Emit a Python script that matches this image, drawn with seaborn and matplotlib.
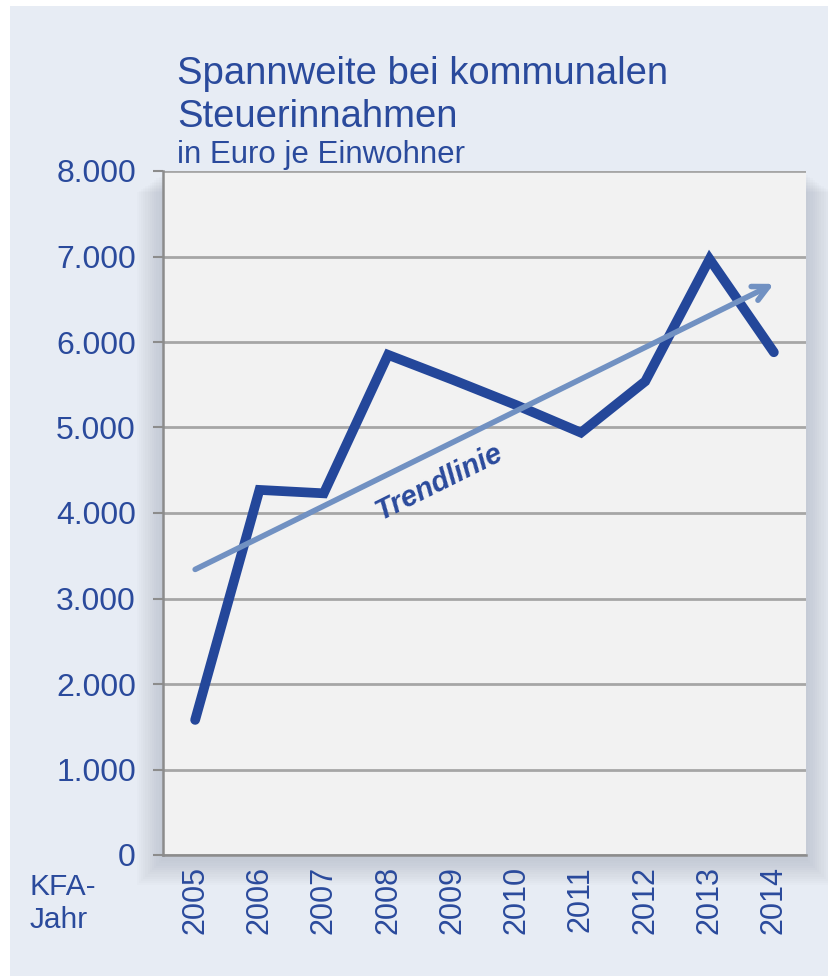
import matplotlib
matplotlib.use("Agg")
import matplotlib.pyplot as plt
import matplotlib.patches as mpatches
import seaborn as sns
import pandas as pd

# Werte
jahre = [2005, 2006, 2007, 2008, 2009, 2010, 2011, 2012, 2013, 2014]
spannweite = [1580, 4270, 4230, 5850, 5560, 5260, 4940, 5540, 6970, 5880]
trend_start = 3340
trend_ende = 6680
y_ticks = [0, 1000, 2000, 3000, 4000, 5000, 6000, 7000, 8000]

df = pd.DataFrame({"Jahr": jahre, "Spannweite": spannweite})

blau = "#24479a"
textblau = "#2a4a9c"
trendblau = "#7191c2"

sns.set_style("white")
plt.rcParams["font.family"] = ["Liberation Sans", "DejaVu Sans"]

fig = plt.figure(figsize=(8.29, 9.76), dpi=100)
fig.patch.set_facecolor("white")
# hellblauer Hintergrund
fig.patches.append(mpatches.Rectangle((10 / 829, 0), 1, 1 - 6 / 976, transform=fig.transFigure,
                                      facecolor="#e7ecf4", edgecolor="none", zorder=-3))

left, bottom, width, height = 163 / 829, 1 - 855 / 976, 643 / 829, 684 / 976
# weicher Schatten
for i in range(12):
    d = (12 - i) * 2.2
    fig.patches.append(mpatches.Rectangle(
        (left - d / 829, bottom - (d + 4) / 976), width + 2 * d / 829, height + (d + 4) / 976 * 0.3,
        transform=fig.transFigure, facecolor="#8a93a3", edgecolor="none", alpha=0.03, zorder=-2))

ax = fig.add_axes([left, bottom, width, height])
ax.set_zorder(1)
ax.set_facecolor("#f2f2f2")

sns.lineplot(data=df, x="Jahr", y="Spannweite", ax=ax, color=blau, linewidth=7,
             solid_capstyle="round", solid_joinstyle="miter", zorder=4)

ax.annotate("", xy=(jahre[-1], trend_ende), xytext=(jahre[0], trend_start),
            arrowprops=dict(arrowstyle="->,head_length=1.1,head_width=0.55", color=trendblau,
                            lw=4, capstyle="round", shrinkA=0, shrinkB=0), zorder=5)
ax.text(2008.8, 4360, "Trendlinie", rotation=26.5, rotation_mode="anchor",
        ha="center", va="center", color=textblau, fontsize=21, fontweight="bold",
        fontstyle="italic", zorder=6)

ax.set_xlim(2004.5, 2014.5)
ax.set_ylim(0, 8000)
ax.set_yticks(y_ticks)
ax.set_yticklabels([f"{v:,.0f}".replace(",", ".") for v in y_ticks])
ax.yaxis.grid(True, color="#a6a6a6", linewidth=2)
ax.set_axisbelow(True)

ax.set_xticks(jahre)
ax.set_xticklabels([str(j) for j in jahre], rotation=90, va="top")
ax.set_xticks([j - 0.5 for j in jahre] + [jahre[-1] + 0.5], minor=True)
ax.tick_params(axis="x", which="major", length=0, pad=8, labelsize=22, labelcolor=textblau)
ax.tick_params(axis="x", which="minor", length=7, width=1.5, color="#8c8c8c", direction="out")
ax.tick_params(axis="y", length=7, width=1.5, color="#8c8c8c", pad=12.5, labelsize=23,
               labelcolor=textblau, left=True)
ax.set_xlabel("")
ax.set_ylabel("")

for s in ["top", "right"]:
    ax.spines[s].set_visible(False)
for s in ["left", "bottom"]:
    ax.spines[s].set_color("#8c8c8c")
    ax.spines[s].set_linewidth(1.8)

fig.text(177 / 829, 1 - 84 / 976, "Spannweite bei kommunalen", fontsize=27.5, color=textblau, va="baseline")
fig.text(177 / 829, 1 - 127 / 976, "Steuerinnahmen", fontsize=27.5, color=textblau, va="baseline")
fig.text(177 / 829, 1 - 163 / 976, "in Euro je Einwohner", fontsize=22.5, color=textblau, va="baseline")
fig.text(30 / 829, 1 - 895 / 976, "KFA-", fontsize=21.5, color=textblau, va="baseline")
fig.text(30 / 829, 1 - 928 / 976, "Jahr", fontsize=21.5, color=textblau, va="baseline")

fig.savefig("out.png", dpi=100)
